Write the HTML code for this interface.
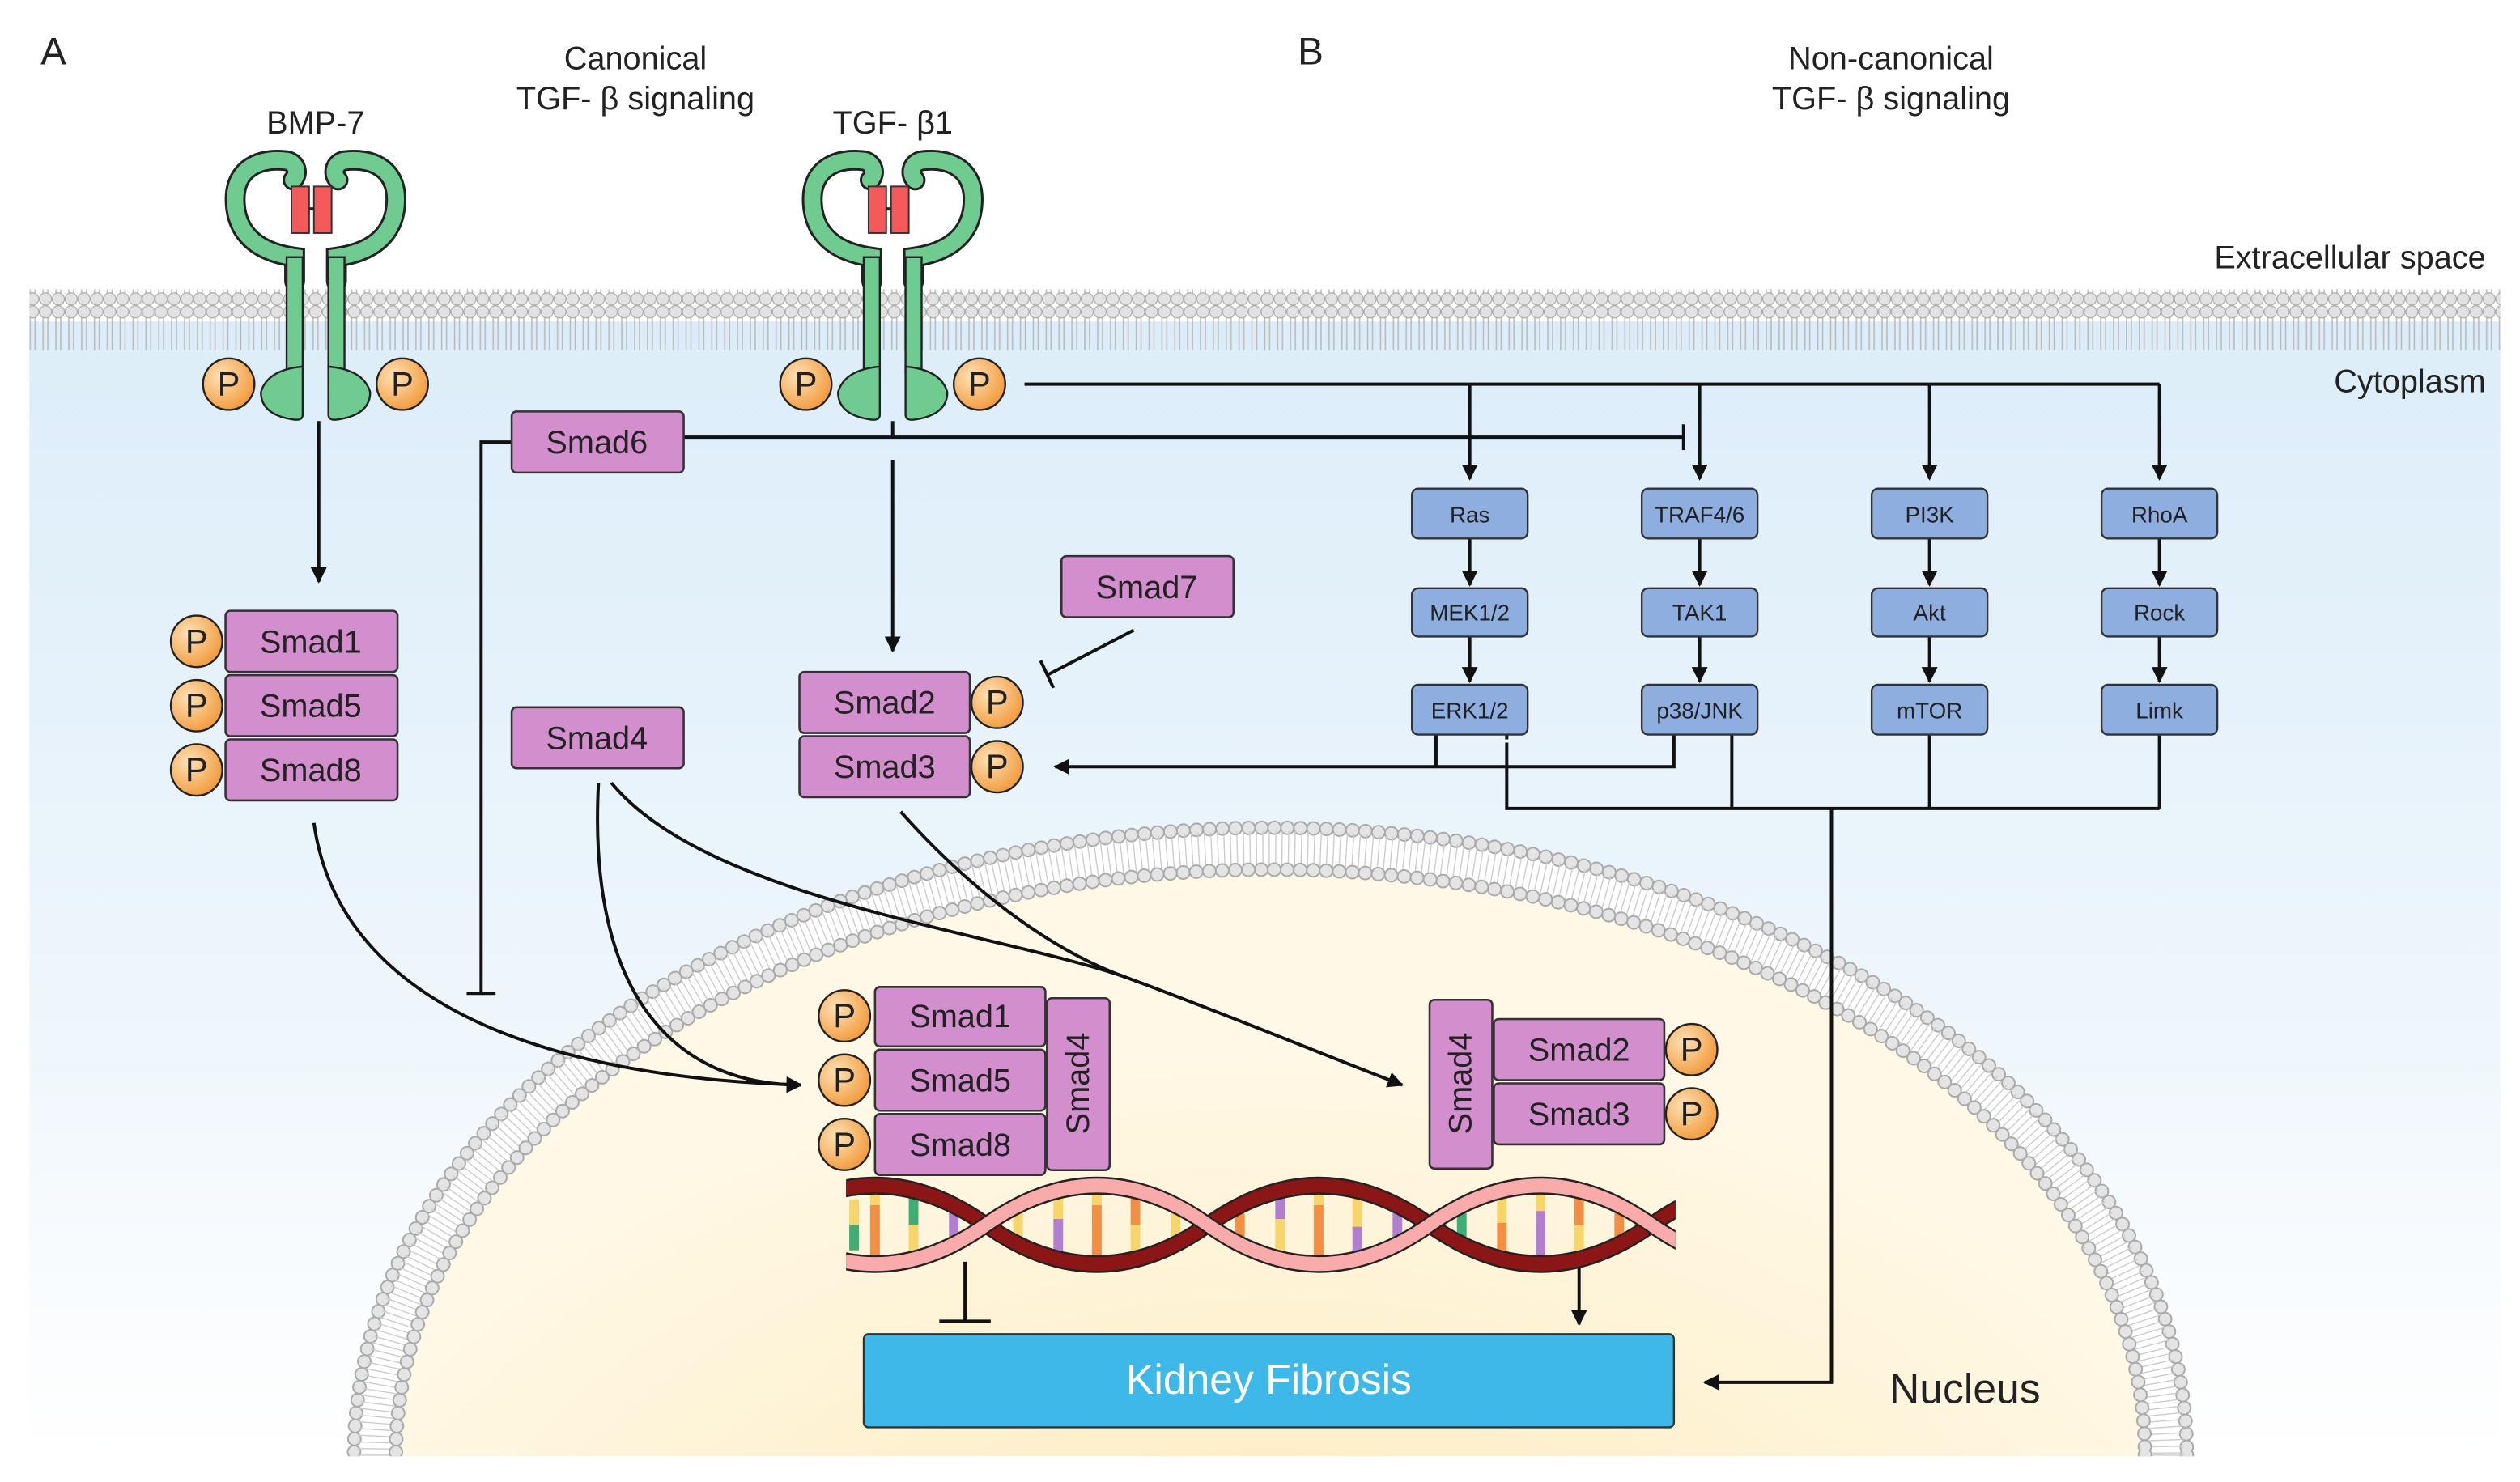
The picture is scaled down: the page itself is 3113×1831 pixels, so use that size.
<!DOCTYPE html>
<html><head><meta charset="utf-8"><style>
html,body{margin:0;padding:0;background:#fff;overflow:hidden}
svg{display:block}
text{font-family:"Liberation Sans",Arial,sans-serif}
</style></head><body>
<svg width="3113" height="1831" viewBox="0 0 1567 922" xmlns="http://www.w3.org/2000/svg">
<defs>
<linearGradient id="cyto" x1="0" y1="0" x2="0" y2="1">
<stop offset="0" stop-color="#dcedf9"/><stop offset="0.6" stop-color="#eef6fc"/><stop offset="1" stop-color="#ffffff"/></linearGradient>
<radialGradient id="nuc" cx="0.5" cy="0.75" r="0.6">
<stop offset="0" stop-color="#fde9b6"/><stop offset="1" stop-color="#fff8e6"/></radialGradient>
<radialGradient id="pg" cx="0.35" cy="0.35" r="0.7">
<stop offset="0" stop-color="#fde2b8"/><stop offset="1" stop-color="#f29a3a"/></radialGradient>
<pattern id="mem" width="8" height="38" patternUnits="userSpaceOnUse">
<line x1="2.5" y1="6" x2="2.5" y2="32" stroke="#bbb" stroke-width="0.8"/>
<line x1="5.5" y1="6" x2="5.5" y2="32" stroke="#bbb" stroke-width="0.8"/>
<circle cx="4" cy="4" r="3.8" fill="#e2e2e2" stroke="#aaa" stroke-width="0.6"/>
<circle cx="4" cy="34" r="3.8" fill="#e2e2e2" stroke="#aaa" stroke-width="0.6"/>
</pattern>
<marker id="ah" viewBox="0 0 10 10" refX="9" refY="5" markerWidth="5" markerHeight="5" orient="auto-start-reverse"><path d="M0,0 L10,5 L0,10 z" fill="#111"/></marker>
<g id="P"><circle r="16" fill="url(#pg)" stroke="#222" stroke-width="1.2"/><text y="7" text-anchor="middle" font-size="21" fill="#222">P</text></g>
<g id="rec">
<path d="M-13 175 L-13 160 C-42 156 -50 140 -50 124 C-50 104 -34 98 -18 100 C-12 101 -10 108 -14 112" fill="none" stroke="#222" stroke-width="13" stroke-linecap="round"/>
<path d="M-13 175 L-13 160 C-42 156 -50 140 -50 124 C-50 104 -34 98 -18 100 C-12 101 -10 108 -14 112" fill="none" stroke="#6fcb8f" stroke-width="10" stroke-linecap="round"/>
<path d="M13 175 L13 160 C42 156 50 140 50 124 C50 104 34 98 18 100 C12 101 10 108 14 112" fill="none" stroke="#222" stroke-width="13" stroke-linecap="round"/>
<path d="M13 175 L13 160 C42 156 50 140 50 124 C50 104 34 98 18 100 C12 101 10 108 14 112" fill="none" stroke="#6fcb8f" stroke-width="10" stroke-linecap="round"/>
<rect x="-18" y="160" width="10" height="72" fill="#6fcb8f" stroke="#222" stroke-width="1.2"/>
<rect x="8" y="160" width="10" height="72" fill="#6fcb8f" stroke="#222" stroke-width="1.2"/>
<path d="M-8 228 L-8 258 Q-8 262 -14 261 Q-34 258 -34 244 Q-30 230 -8 228 z" fill="#6fcb8f" stroke="#222" stroke-width="1.2"/>
<path d="M8 228 L8 258 Q8 262 14 261 Q34 258 34 244 Q30 230 8 228 z" fill="#6fcb8f" stroke="#222" stroke-width="1.2"/>
<rect x="-15" y="116" width="11" height="29" fill="#f45a5a" stroke="#333" stroke-width="1"/>
<rect x="-1" y="116" width="11" height="29" fill="#f45a5a" stroke="#333" stroke-width="1"/>
<line x1="-4" y1="130" x2="-1" y2="130" stroke="#222" stroke-width="2"/>
</g>
<clipPath id="cl"><rect x="0" y="0" width="1567" height="906"/></clipPath>
<clipPath id="dc"><rect x="526" y="720" width="516" height="85"/></clipPath>
</defs>
<rect x="18" y="200" width="1537" height="706" fill="url(#cyto)"/>
<rect x="18" y="180" width="1537" height="38" fill="url(#mem)"/>
<g clip-path="url(#cl)">
<ellipse cx="790" cy="905" rx="570" ry="390" fill="#fff" />
<ellipse cx="790" cy="905" rx="570" ry="390" fill="none" stroke="#aaa" stroke-width="9" stroke-dasharray="0.1 8" stroke-linecap="round"/>
<ellipse cx="790" cy="905" rx="570" ry="390" fill="none" stroke="#e4e4e4" stroke-width="7" stroke-dasharray="0.1 8" stroke-linecap="round"/>
<ellipse cx="790" cy="905" rx="557" ry="377" fill="none" stroke="#ccc" stroke-width="22" stroke-dasharray="0.7 3.3"/>
<ellipse cx="790" cy="905" rx="544" ry="364" fill="url(#nuc)"/>
<ellipse cx="790" cy="905" rx="544" ry="364" fill="none" stroke="#aaa" stroke-width="9" stroke-dasharray="0.1 8" stroke-linecap="round"/>
<ellipse cx="790" cy="905" rx="544" ry="364" fill="none" stroke="#e4e4e4" stroke-width="7" stroke-dasharray="0.1 8" stroke-linecap="round"/>
</g>
<g font-size="20" fill="#222" text-anchor="middle">
<text x="33" y="40" font-size="24">A</text>
<text x="815" y="40" font-size="24">B</text>
<text x="395" y="43">Canonical</text><text x="395" y="68">TGF- β signaling</text>
<text x="1176" y="43">Non-canonical</text><text x="1176" y="68">TGF- β signaling</text>
<text x="196" y="83">BMP-7</text><text x="555" y="83">TGF- β1</text>
<text x="1546" y="167" text-anchor="end">Extracellular space</text>
<text x="1546" y="244" text-anchor="end">Cytoplasm</text>
<text x="1222" y="873" font-size="26">Nucleus</text>
</g>
<use href="#rec" x="196" y="0"/>
<use href="#rec" x="555" y="0"/>
<use href="#P" x="142" y="239"/><use href="#P" x="250" y="239"/>
<use href="#P" x="501" y="239"/><use href="#P" x="609" y="239"/>
<g stroke="#111" stroke-width="2" fill="none">
<path d="M637 239 H1343"/>
<path d="M914 239 V298" marker-end="url(#ah)"/>
<path d="M1057 239 V298" marker-end="url(#ah)"/>
<path d="M1200 239 V298" marker-end="url(#ah)"/>
<path d="M1343 239 V298" marker-end="url(#ah)"/>
<path d="M425 272 H1047"/><path d="M1047 264 V280"/>
<path d="M318 275 H299 V618"/><path d="M290 618 H308"/>
<path d="M198 262 V362" marker-end="url(#ah)"/>
<path d="M555 262 V272 M555 286 V405" marker-end="url(#ah)"/>
<path d="M705 392 L651 420"/><path d="M647 411 L655 428"/>
<path d="M893 457 V477 M1041 457 V477 H656" marker-end="url(#ah)"/>
<path d="M937 462 V503 H1343 M1077 457 V503 M1200 457 V503 M1343 457 V503"/>
<path d="M937 457 V463" stroke-dasharray="3 3"/>
<path d="M1139 503 V860 H1060" marker-end="url(#ah)"/>
<path d="M914 335 V364" marker-end="url(#ah)"/><path d="M914 396 V424" marker-end="url(#ah)"/>
<path d="M1057 335 V364" marker-end="url(#ah)"/><path d="M1057 396 V424" marker-end="url(#ah)"/>
<path d="M1200 335 V364" marker-end="url(#ah)"/><path d="M1200 396 V424" marker-end="url(#ah)"/>
<path d="M1343 335 V364" marker-end="url(#ah)"/><path d="M1343 396 V424" marker-end="url(#ah)"/>
<path d="M195 512 C210 620 330 670 498 675" marker-end="url(#ah)"/>
<path d="M372 487 C365 620 420 675 498 675" marker-end="url(#ah)"/>
<path d="M380 487 C440 560 620 580 700 608 C760 630 820 655 872 675" marker-end="url(#ah)"/>
<path d="M560 505 C600 550 650 590 700 608"/>
<path d="M600 785 V822"/><path d="M584 822 H616"/>
<path d="M982 785 V824" marker-end="url(#ah)"/>
</g>
<g fill="#d38fcd" stroke="#333" stroke-width="1.3">
<rect x="140" y="380" width="107" height="38" rx="3"/><rect x="140" y="420" width="107" height="38" rx="3"/><rect x="140" y="460" width="107" height="38" rx="3"/>
<rect x="318" y="256" width="107" height="38" rx="3"/><rect x="318" y="440" width="107" height="38" rx="3"/>
<rect x="660" y="346" width="107" height="38" rx="3"/>
<rect x="497" y="418" width="106" height="38" rx="3"/><rect x="497" y="458" width="106" height="38" rx="3"/>
<rect x="544" y="614" width="106" height="37" rx="3"/><rect x="544" y="653" width="106" height="38" rx="3"/><rect x="544" y="693" width="106" height="38" rx="3"/>
<rect x="651" y="621" width="39" height="107" rx="3"/>
<rect x="889" y="622" width="39" height="105" rx="3"/>
<rect x="929" y="634" width="106" height="38" rx="3"/><rect x="929" y="674" width="106" height="38" rx="3"/>
</g>
<g font-size="20" fill="#222" text-anchor="middle">
<text x="193" y="406">Smad1</text><text x="193" y="446">Smad5</text><text x="193" y="486">Smad8</text>
<text x="371" y="282">Smad6</text><text x="371" y="466">Smad4</text><text x="713" y="372">Smad7</text>
<text x="550" y="444">Smad2</text><text x="550" y="484">Smad3</text>
<text x="597" y="639">Smad1</text><text x="597" y="679">Smad5</text><text x="597" y="719">Smad8</text>
<text x="982" y="660">Smad2</text><text x="982" y="700">Smad3</text>
<text transform="translate(677,674) rotate(-90)">Smad4</text>
<text transform="translate(915,674) rotate(-90)">Smad4</text>
</g>
<use href="#P" x="122" y="399"/><use href="#P" x="122" y="439"/><use href="#P" x="122" y="479"/>
<use href="#P" x="620" y="437"/><use href="#P" x="620" y="477"/>
<use href="#P" x="525" y="632"/><use href="#P" x="525" y="672"/><use href="#P" x="525" y="712"/>
<use href="#P" x="1052" y="653"/><use href="#P" x="1052" y="693"/>
<g fill="#8eaee0" stroke="#333" stroke-width="1.2">
<rect x="878" y="304" width="72" height="31" rx="4"/><rect x="878" y="366" width="72" height="30" rx="4"/><rect x="878" y="426" width="72" height="31" rx="4"/>
<rect x="1021" y="304" width="72" height="31" rx="4"/><rect x="1021" y="366" width="72" height="30" rx="4"/><rect x="1021" y="426" width="72" height="31" rx="4"/>
<rect x="1164" y="304" width="72" height="31" rx="4"/><rect x="1164" y="366" width="72" height="30" rx="4"/><rect x="1164" y="426" width="72" height="31" rx="4"/>
<rect x="1307" y="304" width="72" height="31" rx="4"/><rect x="1307" y="366" width="72" height="30" rx="4"/><rect x="1307" y="426" width="72" height="31" rx="4"/>
</g>
<g font-size="14" fill="#222" text-anchor="middle">
<text x="914" y="325">Ras</text><text x="914" y="386">MEK1/2</text><text x="914" y="447">ERK1/2</text>
<text x="1057" y="325">TRAF4/6</text><text x="1057" y="386">TAK1</text><text x="1057" y="447">p38/JNK</text>
<text x="1200" y="325">PI3K</text><text x="1200" y="386">Akt</text><text x="1200" y="447">mTOR</text>
<text x="1343" y="325">RhoA</text><text x="1343" y="386">Rock</text><text x="1343" y="447">Limk</text>
</g>
<g clip-path="url(#dc)">
<g transform="translate(0,762) scale(1,1.22) translate(0,-761)">
<g stroke-width="6" stroke-linecap="butt">
<line x1="531" y1="748" x2="531" y2="761" stroke="#f7d56b"/><line x1="531" y1="761" x2="531" y2="774" stroke="#3fae75"/>
<line x1="544" y1="741" x2="544" y2="751" stroke="#f7d56b"/><line x1="544" y1="751" x2="544" y2="781" stroke="#f28f45"/>
<line x1="568" y1="744" x2="568" y2="761" stroke="#3fae75"/><line x1="568" y1="761" x2="568" y2="778" stroke="#f7d56b"/>
<line x1="593" y1="752" x2="593" y2="770" stroke="#b07fd0"/>
<line x1="633" y1="752" x2="633" y2="770" stroke="#f7d56b"/>
<line x1="658" y1="744" x2="658" y2="758" stroke="#f7d56b"/><line x1="658" y1="758" x2="658" y2="778" stroke="#b07fd0"/>
<line x1="682" y1="741" x2="682" y2="751" stroke="#f7d56b"/><line x1="682" y1="751" x2="682" y2="781" stroke="#f28f45"/>
<line x1="706" y1="744" x2="706" y2="761" stroke="#f28f45"/><line x1="706" y1="761" x2="706" y2="778" stroke="#f7d56b"/>
<line x1="731" y1="752" x2="731" y2="770" stroke="#f7d56b"/>
<line x1="771" y1="752" x2="771" y2="770" stroke="#f28f45"/>
<line x1="796" y1="744" x2="796" y2="758" stroke="#b07fd0"/><line x1="796" y1="758" x2="796" y2="778" stroke="#f7d56b"/>
<line x1="820" y1="741" x2="820" y2="751" stroke="#f7d56b"/><line x1="820" y1="751" x2="820" y2="781" stroke="#f28f45"/>
<line x1="844" y1="744" x2="844" y2="762" stroke="#f7d56b"/><line x1="844" y1="762" x2="844" y2="778" stroke="#b07fd0"/>
<line x1="869" y1="752" x2="869" y2="770" stroke="#b07fd0"/>
<line x1="909" y1="752" x2="909" y2="770" stroke="#3fae75"/>
<line x1="934" y1="744" x2="934" y2="760" stroke="#f7d56b"/><line x1="934" y1="760" x2="934" y2="778" stroke="#f28f45"/>
<line x1="958" y1="741" x2="958" y2="754" stroke="#f7d56b"/><line x1="958" y1="754" x2="958" y2="781" stroke="#b07fd0"/>
<line x1="982" y1="744" x2="982" y2="761" stroke="#f28f45"/><line x1="982" y1="761" x2="982" y2="778" stroke="#f7d56b"/>
<line x1="1007" y1="752" x2="1007" y2="770" stroke="#f28f45"/>
</g>
<path d="M337 761 Q406 801 475 761 T613 761 T751 761 T889 761 T1027 761 T1165 761" fill="none" stroke="#222" stroke-width="9"/>
<path d="M337 761 Q406 801 475 761 T613 761 T751 761 T889 761 T1027 761 T1165 761" fill="none" stroke="#8c1616" stroke-width="7"/>
<path d="M337 761 Q406 721 475 761 T613 761 T751 761 T889 761 T1027 761 T1165 761" fill="none" stroke="#222" stroke-width="9"/>
<path d="M337 761 Q406 721 475 761 T613 761 T751 761 T889 761 T1027 761 T1165 761" fill="none" stroke="#f9aaaa" stroke-width="7"/>
</g>
</g>
<rect x="537" y="830" width="504" height="58" rx="3" fill="#3db8e8" stroke="#333" stroke-width="1.2"/>
<text x="789" y="867" font-size="26" fill="#fff" text-anchor="middle">Kidney Fibrosis</text>
</svg>
</body></html>
